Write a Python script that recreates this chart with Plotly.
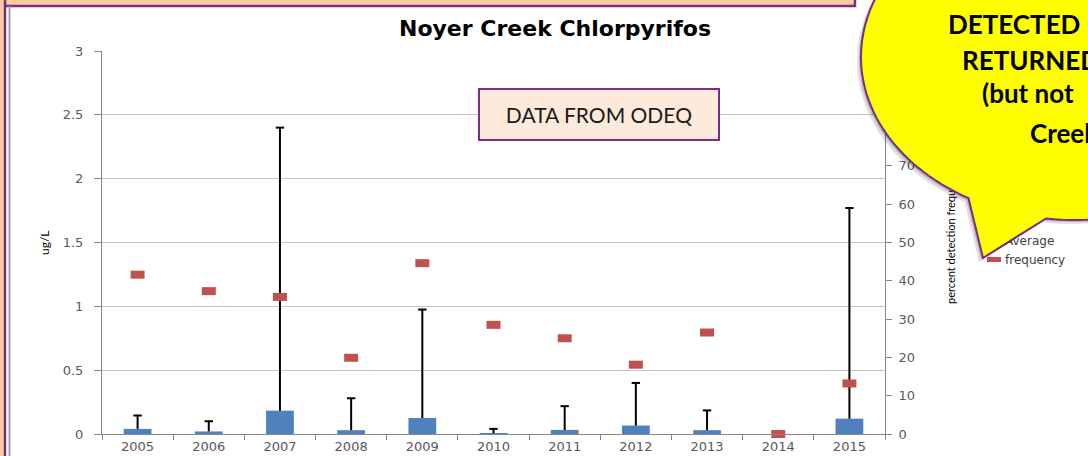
import numpy as np
import plotly.graph_objects as go

# ---------------- data ----------------
years = ['2005', '2006', '2007', '2008', '2009', '2010', '2011', '2012', '2013', '2014', '2015']
average = [0.04, 0.02, 0.183, 0.03, 0.125, 0.006, 0.032, 0.066, 0.03, 0.0, 0.12]
maximum = [0.145, 0.10, 2.40, 0.28, 0.975, 0.04, 0.218, 0.40, 0.185, None, 1.77]
frequency = [41.6, 37.3, 35.8, 19.9, 44.6, 28.5, 25.0, 18.1, 26.5, 0.0, 13.2]

title_text = "Noyer Creek Chlorpyrifos"
left_title = "ug/L"
right_title = "percent detection frequency"
note_text = "DATA FROM ODEQ"
callout_lines = ["DETECTED", "RETURNED", "(but not", "Creek"]

# ---------------- geometry helpers ----------------
W, H = 1088, 456
L, R, T, B = 102, 885, 51, 434


def px(x):
    return (x - L) / (R - L)


def py(y):
    return (B - y) / (B - T)


err_plus = [(m - a) if m is not None else None for m, a in zip(maximum, average)]
err_minus = [0 if m is not None else None for m in maximum]

BLUE = "#4F81BD"
RED = "#C0504D"
PURPLE = "#7B2C86"
PEACH = "#FBCBA0"
TICKFONT = dict(family="DejaVu Sans", size=13, color="#595959")

fig = go.Figure()
fig.add_trace(go.Bar(
    x=years, y=average, name="Average", marker=dict(color=BLUE, line=dict(width=0)),
    width=0.39,
    error_y=dict(type="data", symmetric=False, array=err_plus, arrayminus=err_minus,
                 color="black", thickness=2, width=0),
    yaxis="y",
))
# caps at the top of the max whiskers
fig.add_trace(go.Scatter(
    x=years, y=maximum, mode="markers", showlegend=False, hoverinfo="skip",
    marker=dict(symbol="line-ew", size=6, color="black", line=dict(color="black", width=2)),
    yaxis="y",
))
fig.add_trace(go.Scatter(
    x=years, y=frequency, name="frequency", mode="markers", cliponaxis=False,
    marker=dict(symbol="line-ew", size=10, color=RED, line=dict(color=RED, width=8)),
    yaxis="y2",
))


# ---------------- callout shape ----------------
def callout_path(dx=0.0, dy=0.0):
    cx, cy, rx, ry = 1076 + dx, 57 + dy, 215, 163
    ts = np.radians(np.linspace(120, 458, 160))
    pts = [(cx + rx * np.cos(t), cy + ry * np.sin(t)) for t in ts]
    pts.append((983 + dx, 258 + dy))
    s = "M " + " L ".join(f"{px(x):.5f},{py(y):.5f}" for x, y in pts) + " Z"
    return s


shapes = [
    # slide decoration (peach band with purple border)
    dict(type="rect", xref="paper", yref="paper", x0=px(-20), x1=px(855), y0=py(6), y1=py(-20),
         fillcolor=PEACH, line=dict(color=PURPLE, width=2.5), layer="above"),
    dict(type="rect", xref="paper", yref="paper", x0=px(-20), x1=px(5), y0=py(480), y1=py(-20),
         fillcolor=PEACH, line=dict(color=PURPLE, width=2.5), layer="above"),
    # chart area border
    dict(type="line", xref="paper", yref="paper", x0=px(9.5), x1=px(9.5), y0=py(6), y1=py(480),
         line=dict(color="#A0A0A0", width=2), layer="above"),
    # callout shadow + callout
    dict(type="path", xref="paper", yref="paper", path=callout_path(-4, 4),
         fillcolor="rgba(0,0,0,0.12)", line=dict(width=0), layer="above"),
    dict(type="path", xref="paper", yref="paper", path=callout_path(-2, 2),
         fillcolor="rgba(0,0,0,0.18)", line=dict(width=0), layer="above"),
    dict(type="path", xref="paper", yref="paper", path=callout_path(),
         fillcolor="#FFFF00", line=dict(color=PURPLE, width=2), layer="above"),
]

annotations = [
    dict(xref="paper", yref="paper", x=px(599), y=py(114.5), xanchor="center", yanchor="middle",
         text=note_text, showarrow=False, width=238, height=49, borderpad=0, borderwidth=2,
         bordercolor=PURPLE, bgcolor="#FDEADA",
         font=dict(family="Lato", size=21, color="#1A1A1A")),
    dict(xref="paper", yref="paper", x=px(44), y=py(243), xanchor="center", yanchor="middle",
         text=left_title, textangle=-90, showarrow=False,
         font=dict(family="Lato", size=12, color="black")),
    # right axis title (index 2, moved below the callout by the script)
    dict(xref="paper", yref="paper", x=px(950), y=py(236), xanchor="center", yanchor="middle",
         text=right_title, textangle=-90, showarrow=False,
         font=dict(family="Lato", size=11, color="black")),
]
line_pos = [(946, 24), (960, 60), (980, 93), (1028, 133)]
for txt, (lx, ly) in zip(callout_lines, line_pos):
    annotations.append(dict(xref="paper", yref="paper", x=px(lx), y=py(ly), xanchor="left",
                            yanchor="middle", text=f"<b>{txt}</b>", showarrow=False,
                            font=dict(family="Lato", size=26, color="black")))

fig.update_layout(
    width=W, height=H, autosize=False,
    margin=dict(l=L, r=W - R, t=T, b=H - B, pad=0, autoexpand=False),
    paper_bgcolor="white", plot_bgcolor="white",
    title=dict(text=f"<b>{title_text}</b>", x=555 / W, xanchor="center", xref="container",
               y=1 - 28 / H, yanchor="middle", yref="container", automargin=False,
               font=dict(family="DejaVu Sans", size=22, color="black")),
    showlegend=True,
    legend=dict(x=px(974), y=py(226), xanchor="left", yanchor="top", bgcolor="rgba(0,0,0,0)",
                font=dict(family="DejaVu Sans", size=12, color="#404040"), itemwidth=30,
                tracegroupgap=0),
    xaxis=dict(type="category", range=[-0.5, len(years) - 0.5], showline=True, linecolor="#868686",
               linewidth=1, ticks="outside", ticklen=5, tickcolor="#868686", tickson="boundaries",
               tickfont=TICKFONT, showgrid=False, zeroline=False, automargin=False),
    yaxis=dict(range=[0, 3], dtick=0.5, tick0=0, showline=True, linecolor="#868686", linewidth=1,
               ticks="outside", ticklen=7, tickcolor="#868686", tickfont=TICKFONT,
               ticklabelstandoff=8, automargin=False,
               showgrid=True, gridcolor="#C4C4C4", gridwidth=1, zeroline=False),
    yaxis2=dict(range=[0, 100], dtick=10, tick0=0, overlaying="y", side="right", anchor="x",
                showline=True, linecolor="#868686", linewidth=1, ticks="outside", ticklen=6,
                tickcolor="#868686", tickfont=TICKFONT, showgrid=False, zeroline=False,
                ticklabelstandoff=4, automargin=False),
    shapes=shapes,
    annotations=annotations,
)

post = """
(function(){
  document.documentElement.style.margin = '0';
  document.documentElement.style.padding = '0';
  document.documentElement.style.overflow = 'hidden';
  document.body.style.margin = '0';
  document.body.style.padding = '0';
  document.body.style.overflow = 'hidden';
  var gd = document.getElementById('{plot_id}');
  function mv(){
    var la = gd.querySelector('g.layer-above');
    if(!la) return;
    var leg = gd.querySelector('g.legend');
    var els = [leg, gd.querySelector('g.annotation[data-index="2"]')];
    els.forEach(function(e){
      if(e) la.parentNode.insertBefore(e, la);
    });
    if(leg){
      leg.querySelectorAll('text.legendtext').forEach(function(t){
        if(!t.getAttribute('data-shifted')){
          var x = parseFloat(t.getAttribute('x') || '0');
          t.setAttribute('x', x - 9);
          t.setAttribute('data-shifted', '1');
        }
      });
    }
  }
  mv();
  setTimeout(mv, 30);
  setTimeout(mv, 300);
})();
"""

fig.write_html("out.html", include_plotlyjs=True, config={"displayModeBar": False}, post_script=post)
